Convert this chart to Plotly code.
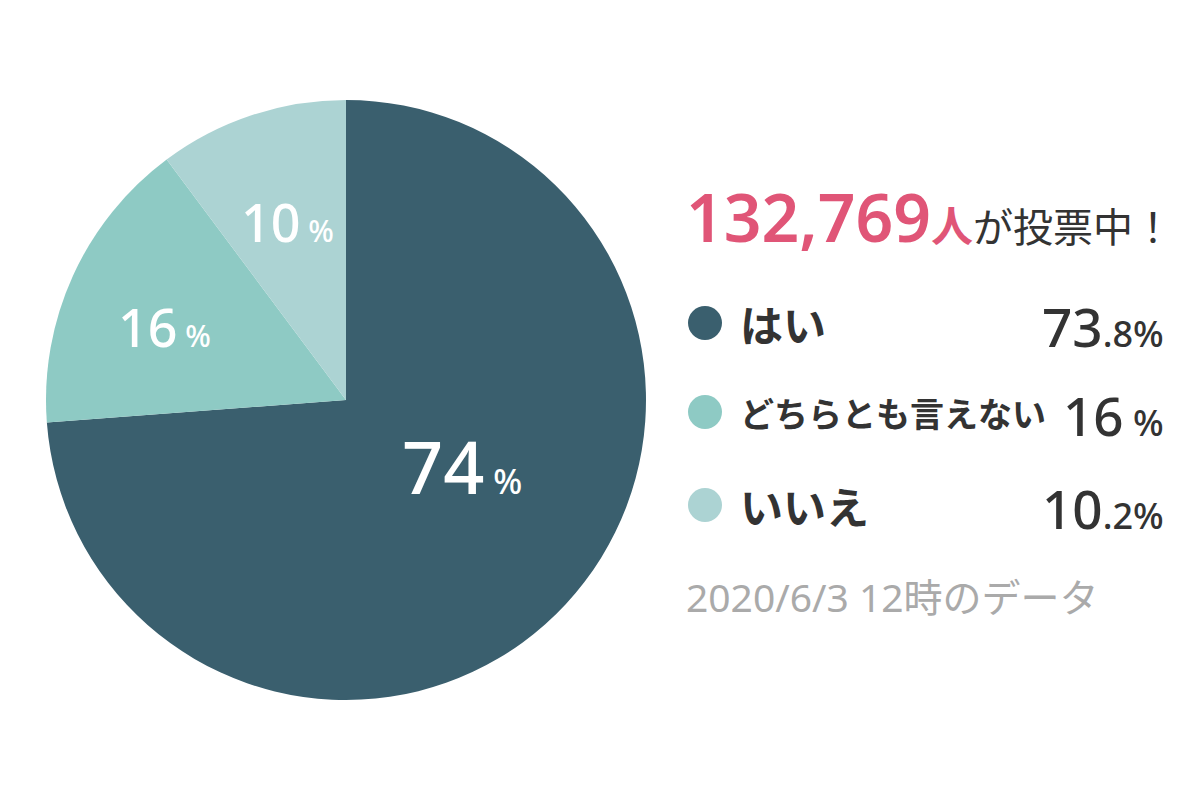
import plotly.graph_objects as go

labels = ["はい", "どちらとも言えない", "いいえ"]
values = [73.8, 16.0, 10.2]
colors = ["#3a5f6e", "#8ecac4", "#acd3d3"]
voters = 132769
date_note = "2020/6/3 12時のデータ"

W, H = 1200, 800
JP = "Noto Sans CJK JP"
NUM = "Noto Sans, Noto Sans CJK JP"


def px(x):
    return x / W


def py(y):
    return 1 - y / H


fig = go.Figure()
fig.add_trace(go.Pie(
    labels=labels, values=values, sort=False, direction="clockwise", rotation=0,
    marker=dict(colors=colors, line=dict(width=0)), textinfo="none",
    hoverinfo="label+percent", showlegend=False,
    domain=dict(x=[px(46), px(646)], y=[py(700), py(100)]),
))

# percent labels on the slices
slice_pos = [(462, 466, 72, 34), (164, 326, 52, 30), (287, 221, 52, 30)]
for v, (x, y, big, small) in zip(values, slice_pos):
    fig.add_annotation(
        x=px(x), y=py(y), xref="paper", yref="paper", showarrow=False,
        xanchor="center", yanchor="middle",
        text=f"{round(v)}<span style='font-size:{small}px'> %</span>",
        font=dict(family=NUM, size=big, color="white", weight=500),
    )

# headline
fig.add_annotation(
    x=px(684), y=py(216), xref="paper", yref="paper", showarrow=False,
    xanchor="left", yanchor="middle",
    text=(f"<span style='color:#e05577'>{voters:,}</span>"
          f"<span style='color:#e05577;font-size:42px'>人</span>"
          f"<span style='font-size:40px;font-weight:400;font-family:{JP}'>が投票中！</span>"),
    font=dict(family=NUM, size=66, color="#333333", weight=600),
)

# legend rows
row_y = [323, 412, 505]
label_size = [43, 34, 43]
for lab, v, c, y, fs in zip(labels, values, colors, row_y, label_size):
    fig.add_shape(type="circle", xref="paper", yref="paper",
                  x0=px(688), x1=px(722), y0=py(y + 17), y1=py(y - 17),
                  fillcolor=c, line=dict(width=0))
    fig.add_annotation(
        x=px(738), y=py(y), xref="paper", yref="paper", showarrow=False,
        xanchor="left", yanchor="middle", text=lab,
        font=dict(family=JP, size=fs, color="#333333", weight=700),
    )
    whole, _, dec = f"{v:g}".partition(".")
    tail = f".{dec}%" if dec else " %"
    fig.add_annotation(
        x=px(1166), y=py(y + 3), xref="paper", yref="paper", showarrow=False,
        xanchor="right", yanchor="middle",
        text=f"{whole}<span style='font-size:36px'>{tail}</span>",
        font=dict(family=NUM, size=53, color="#333333", weight=500),
    )

fig.add_annotation(
    x=px(684), y=py(596), xref="paper", yref="paper", showarrow=False,
    xanchor="left", yanchor="middle", text=date_note,
    font=dict(family=NUM, size=39, color="#aaaaaa"),
)

fig.update_layout(
    width=W, height=H, margin=dict(l=0, r=0, t=0, b=0),
    paper_bgcolor="white", plot_bgcolor="white",
)

fig.write_html("out.html", config={"displayModeBar": False},
               post_script="document.body.style.margin='0';")
